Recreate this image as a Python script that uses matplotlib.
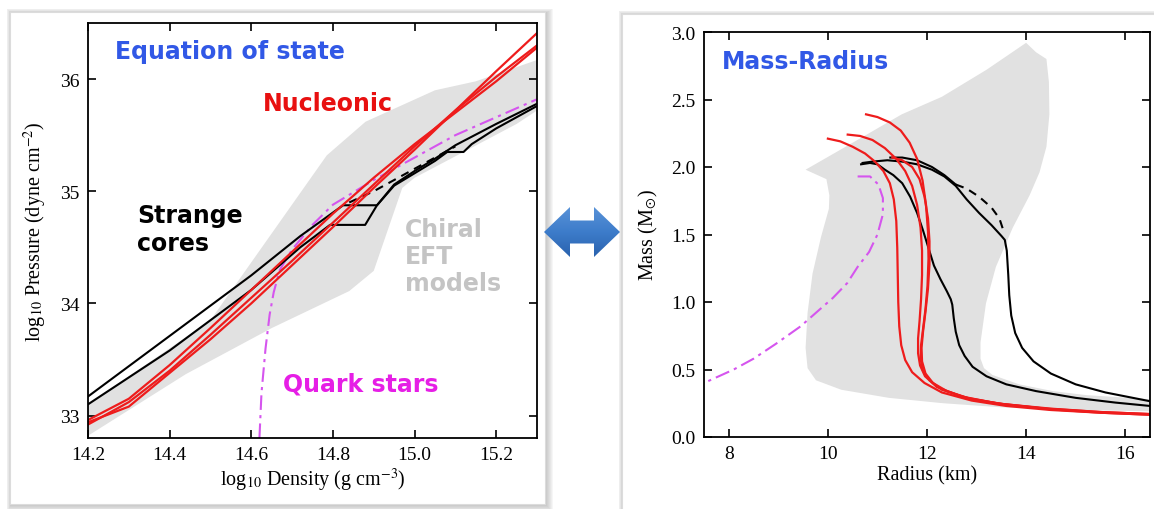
import matplotlib; matplotlib.use("Agg")
import matplotlib.pyplot as plt
from matplotlib.patches import Polygon, Rectangle
from matplotlib.colors import LinearSegmentedColormap
from matplotlib.ticker import FormatStrFormatter
import numpy as np

plt.rcParams.update({"font.family": "serif", "font.serif": ["Liberation Serif", "DejaVu Serif"],
                     "mathtext.fontset": "stix", "font.size": 14})
RED = "#ee1c1c"; MAG = "#d555ee"; GREYFILL = "#e1e1e1"
BLUE_T = "#3158e6"; SANS = ["DejaVu Sans"]

# ---------------- data: equation of state (left) ----------------
eft_upper_rho = [14.20, 14.40, 14.50, 14.785, 14.88, 15.05, 15.15, 15.30]
eft_upper_p   = [33.10, 33.60, 33.85, 35.32, 35.62, 35.90, 35.98, 36.17]
eft_lower_rho = [15.30, 15.25, 15.12, 15.00, 14.97, 14.90, 14.84, 14.65, 14.44, 14.20]
eft_lower_p   = [35.72, 35.60, 35.35, 35.12, 35.03, 34.29, 34.11, 33.78, 33.37, 32.82]

nuc_rho = [14.2, 14.3, 14.4, 14.5, 14.6, 14.7, 14.8, 14.9, 15.0, 15.1, 15.2, 15.3]
nuc_p_a = [32.94, 33.08, 33.38, 33.68, 34.00, 34.34, 34.68, 35.03, 35.37, 35.72, 36.07, 36.41]
nuc_p_b = [32.96, 33.15, 33.45, 33.78, 34.12, 34.46, 34.80, 35.12, 35.42, 35.70, 35.98, 36.28]
nuc_p_c = [32.92, 33.12, 33.40, 33.72, 34.05, 34.38, 34.72, 35.06, 35.40, 35.72, 36.02, 36.30]

strange1_rho = [14.20, 14.40, 14.60, 14.72, 14.825, 14.908, 14.95, 15.00, 15.05, 15.10, 15.20, 15.30]
strange1_p   = [33.17, 33.71, 34.25, 34.60, 34.875, 34.875, 35.06, 35.18, 35.29, 35.41, 35.60, 35.78]
strange2_rho = [14.20, 14.40, 14.60, 14.72, 14.793, 14.879, 14.908, 14.95, 15.00, 15.05, 15.08, 15.12, 15.14, 15.20, 15.30]
strange2_p   = [33.10, 33.58, 34.12, 34.50, 34.70, 34.70, 34.875, 35.05, 35.16, 35.27, 35.35, 35.35, 35.42, 35.56, 35.76]
strange_dash_rho = [14.84, 14.90, 14.95, 15.00, 15.06, 15.10]
strange_dash_p   = [34.90, 35.00, 35.10, 35.20, 35.32, 35.40]

quark_rho = [14.620, 14.625, 14.635, 14.645, 14.655, 14.67, 14.70, 14.75, 14.80, 14.90, 15.00, 15.10, 15.20, 15.30]
quark_p   = [32.80, 33.20, 33.60, 33.90, 34.10, 34.30, 34.48, 34.70, 34.88, 35.10, 35.30, 35.50, 35.66, 35.82]

# ---------------- data: mass-radius (right) ----------------
mr_band_r = [9.55, 10.5, 11.49, 12.3, 13.2, 14.0, 14.2, 14.41, 14.46, 14.47, 14.41, 14.27, 14.07, 13.73,
             13.39, 13.19, 13.08, 13.08, 13.15, 13.32, 13.86, 14.54, 15.22, 16.5, 16.5, 15.0, 13.5, 12.33,
             11.23, 10.27, 9.76, 9.59, 9.55, 9.59, 9.69, 9.86, 10.02, 10.03, 9.97]
mr_band_m = [1.98, 2.18, 2.39, 2.52, 2.72, 2.92, 2.85, 2.80, 2.63, 2.39, 2.15, 1.96, 1.79, 1.55,
             1.26, 0.99, 0.70, 0.58, 0.51, 0.46, 0.39, 0.34, 0.31, 0.28, 0.19, 0.20, 0.22, 0.25,
             0.29, 0.35, 0.42, 0.51, 0.66, 0.92, 1.21, 1.48, 1.69, 1.79, 1.91]

nuc1_r = [10.00, 10.25, 10.50, 10.75, 10.95, 11.12, 11.25, 11.33, 11.38, 11.40, 11.41, 11.42, 11.44, 11.48,
          11.56, 11.70, 11.95, 12.3, 12.9, 13.6, 14.5, 15.5, 16.5]
nuc1_m = [2.21, 2.19, 2.15, 2.10, 2.04, 1.97, 1.88, 1.76, 1.60, 1.40, 1.20, 1.00, 0.82, 0.68,
          0.57, 0.48, 0.40, 0.33, 0.27, 0.23, 0.20, 0.18, 0.165]
nuc2_r = [10.40, 10.65, 10.90, 11.15, 11.38, 11.56, 11.70, 11.80, 11.87, 11.90, 11.90, 11.88, 11.85, 11.82,
          11.82, 11.86, 11.96, 12.2, 12.7, 13.4, 14.4, 15.5, 16.5]
nuc2_m = [2.24, 2.23, 2.20, 2.14, 2.06, 1.97, 1.86, 1.72, 1.55, 1.38, 1.20, 1.02, 0.86, 0.73,
          0.62, 0.53, 0.45, 0.37, 0.30, 0.25, 0.21, 0.185, 0.17]
nuc3_r = [10.77, 11.00, 11.25, 11.47, 11.65, 11.80, 11.91, 11.98, 12.02, 12.03, 12.01, 11.97, 11.92, 11.88,
          11.87, 11.92, 12.05, 12.3, 12.8, 13.5, 14.5, 15.5, 16.5]
nuc3_m = [2.39, 2.37, 2.33, 2.27, 2.18, 2.06, 1.90, 1.72, 1.52, 1.32, 1.12, 0.95, 0.80, 0.68,
          0.58, 0.49, 0.42, 0.35, 0.29, 0.245, 0.21, 0.185, 0.17]
nuc4_r = [11.30, 11.50, 11.70, 11.85, 11.95, 12.02, 12.05, 12.05, 12.02, 11.97, 11.92, 11.89, 11.90, 11.97,
          12.12, 12.4, 12.9, 13.6, 14.5, 15.5, 16.5]
nuc4_m = [2.07, 2.05, 2.00, 1.91, 1.78, 1.62, 1.45, 1.28, 1.10, 0.93, 0.78, 0.66, 0.56, 0.47,
          0.40, 0.34, 0.28, 0.24, 0.205, 0.18, 0.165]

hyb_mid_r = [10.67, 10.85, 11.00, 11.15, 11.32, 11.50, 11.66, 11.80, 11.92, 12.03, 12.14, 12.27, 12.40, 12.48,
             12.51, 12.54, 12.58, 12.65, 12.76, 12.92, 13.2, 13.6, 14.2, 15.0, 15.8, 16.5]
hyb_mid_m = [2.02, 2.03, 2.02, 1.98, 1.94, 1.88, 1.78, 1.66, 1.53, 1.40, 1.27, 1.17, 1.08, 1.02,
             0.98, 0.88, 0.78, 0.68, 0.60, 0.52, 0.45, 0.39, 0.34, 0.29, 0.255, 0.23]
hyb_right_r = [10.70, 10.9, 11.2, 11.5, 11.8, 12.1, 12.35, 12.58, 12.80, 13.05, 13.30, 13.50, 13.57, 13.61,
               13.64, 13.66, 13.70, 13.78, 13.92, 14.15, 14.50, 15.0, 15.6, 16.5]
hyb_right_m = [2.03, 2.04, 2.05, 2.04, 2.02, 1.98, 1.93, 1.86, 1.76, 1.66, 1.57, 1.49, 1.46, 1.38,
               1.20, 1.05, 0.90, 0.77, 0.66, 0.56, 0.47, 0.39, 0.33, 0.265]
hyb_alt_r = [11.26, 11.5, 11.8, 12.1, 12.35, 12.58]
hyb_alt_m = [2.07, 2.07, 2.05, 2.00, 1.94, 1.87]
hyb_dash_r = [12.58, 12.80, 13.05, 13.30, 13.46, 13.55]
hyb_dash_m = [1.87, 1.84, 1.78, 1.70, 1.62, 1.52]

qs_r = [10.60, 10.85, 11.02, 11.11, 11.11, 11.00, 10.83, 10.60, 10.39, 10.10, 9.82, 9.45, 8.95, 8.50, 8.10, 7.80, 7.50]
qs_m = [1.93, 1.93, 1.87, 1.77, 1.65, 1.50, 1.37, 1.26, 1.14, 1.03, 0.94, 0.82, 0.69, 0.58, 0.50, 0.45, 0.40]

# ---------------- figure ----------------
W, H = 1154, 510
fig = plt.figure(figsize=(W / 100, H / 100), dpi=100)

def fx(x): return x / W
def fy(y): return 1 - y / H

def card(x0, y0, x1, y1):
    for d in range(7, 0, -1):
        fig.patches.append(Rectangle((fx(x0 - d * 0.6 + 1), fy(y1 + d + 1)),
                                     fx(x1 - x0 + d * 1.6), (y1 - y0 + d * 1.6) / H,
                                     transform=fig.transFigure, fc="#909090", ec="none",
                                     alpha=0.08, zorder=-3))
    fig.patches.append(Rectangle((fx(x0), fy(y1)), fx(x1 - x0), (y1 - y0) / H,
                                 transform=fig.transFigure, fc="white", ec="#dcdcdc",
                                 lw=0.8, zorder=-2))

card(10, 13, 545, 505)
card(622, 15, 1170, 525)

def style(ax):
    ax.tick_params(direction="in", length=6, width=1.2, top=True, right=True,
                   labelsize=14, pad=6)
    for s in ax.spines.values():
        s.set_linewidth(1.3)

# ---- LEFT: equation of state ----
axL = fig.add_axes([fx(88), fy(439), fx(537 - 88), (439 - 24) / H], zorder=2)
axL.fill(eft_upper_rho + eft_lower_rho, eft_upper_p + eft_lower_p, color=GREYFILL, lw=0)
axL.plot(quark_rho, quark_p, color=MAG, lw=1.5, ls=(0, (7, 2.5, 1.5, 2.5)))
axL.plot(strange1_rho, strange1_p, color="black", lw=1.5)
axL.plot(strange2_rho, strange2_p, color="black", lw=1.5)
axL.plot(strange_dash_rho, strange_dash_p, color="black", lw=1.5, ls=(0, (4, 3)))
for p in (nuc_p_a, nuc_p_b, nuc_p_c):
    axL.plot(nuc_rho, p, color=RED, lw=1.6)
axL.set_xlim(14.2, 15.3); axL.set_ylim(32.8, 36.5)
axL.set_xticks([14.2, 14.4, 14.6, 14.8, 15.0, 15.2]); axL.set_yticks([33, 34, 35, 36])
axL.xaxis.set_major_formatter(FormatStrFormatter("%.1f"))
axL.set_xlabel(r"log$_{10}$ Density (g cm$^{-3}$)", fontsize=14.5, labelpad=2)
axL.set_ylabel(r"log$_{10}$ Pressure (dyne cm$^{-2}$)", fontsize=14.5, labelpad=8)
style(axL)
kw = dict(family=SANS, fontweight="bold", fontsize=17, va="center", ha="left")
axL.text(14.266, 36.25, "Equation of state", color=BLUE_T, **kw)
axL.text(14.629, 35.79, "Nucleonic", color="#e81010", **kw)
axL.text(14.32, 34.79, "Strange", color="black", **kw)
axL.text(14.32, 34.54, "cores", color="black", **kw)
axL.text(14.977, 34.66, "Chiral", color="#c4c4c4", **kw)
axL.text(14.977, 34.42, "EFT", color="#c4c4c4", **kw)
axL.text(14.977, 34.18, "models", color="#c4c4c4", **kw)
axL.text(14.678, 33.29, "Quark stars", color="#e61ee6", **kw)

# ---- RIGHT: mass-radius ----
axR = fig.add_axes([fx(704), fy(438), fx(1150 - 704), (438 - 33) / H], zorder=2)
axR.fill(mr_band_r, mr_band_m, color=GREYFILL, lw=0)
axR.plot(qs_r, qs_m, color=MAG, lw=1.5, ls=(0, (7, 2.5, 1.5, 2.5)))
axR.plot(hyb_mid_r, hyb_mid_m, color="black", lw=1.5)
axR.plot(hyb_right_r, hyb_right_m, color="black", lw=1.5)
axR.plot(hyb_alt_r, hyb_alt_m, color="black", lw=1.5)
axR.plot(hyb_dash_r, hyb_dash_m, color="black", lw=1.5, ls=(0, (4, 3)))
for r, m in ((nuc1_r, nuc1_m), (nuc2_r, nuc2_m), (nuc3_r, nuc3_m), (nuc4_r, nuc4_m)):
    axR.plot(r, m, color=RED, lw=1.6)
axR.set_xlim(7.5, 16.5); axR.set_ylim(0, 3.0)
axR.set_xticks([8, 10, 12, 14, 16]); axR.set_yticks(np.arange(0, 3.01, 0.5))
axR.yaxis.set_major_formatter(FormatStrFormatter("%.1f"))
axR.set_xlabel("Radius (km)", fontsize=14.5, labelpad=2)
axR.set_ylabel(r"Mass (M$_{\odot}$)", fontsize=14.5, labelpad=8)
style(axR)
axR.text(7.86, 2.785, "Mass-Radius", color=BLUE_T, **kw)

# ---- double arrow between the panels ----
axA = fig.add_axes([fx(544), fy(258), fx(76), 50 / H], zorder=3)
axA.set_xlim(0, 76); axA.set_ylim(0, 50); axA.axis("off")
cmap = LinearSegmentedColormap.from_list("arr", ["#2a62ae", "#3d7cca", "#5892d8"])
grad = np.linspace(0, 1, 64).reshape(-1, 1)
im = axA.imshow(grad, extent=(0, 76, 0, 50), origin="lower", cmap=cmap, aspect="auto")
shape = Polygon([(0, 25), (26, 50), (26, 36.5), (50, 36.5), (50, 50), (76, 25),
                 (50, 0), (50, 13.5), (26, 13.5), (26, 0)], closed=True, fc="none", ec="none",
                transform=axA.transData)
axA.add_patch(shape)
im.set_clip_path(shape)

fig.savefig("out.png", dpi=100)
